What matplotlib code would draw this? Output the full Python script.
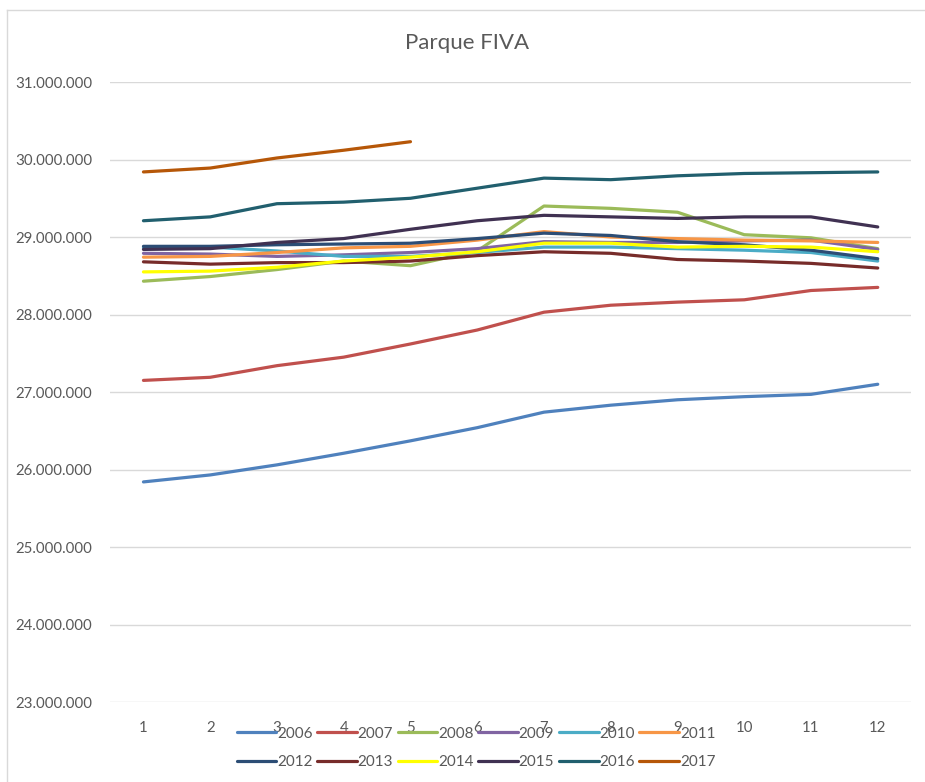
import matplotlib.pyplot as plt
from matplotlib.ticker import FuncFormatter
from matplotlib.lines import Line2D

plt.rcParams['font.family'] = ['Lato', 'DejaVu Sans']

# Meses
meses = [1, 2, 3, 4, 5, 6, 7, 8, 9, 10, 11, 12]
anos = ["2006", "2007", "2008", "2009", "2010", "2011",
        "2012", "2013", "2014", "2015", "2016", "2017"]

# Parque FIVA (milhões de veículos)
v2006 = [25.84, 25.93, 26.06, 26.21, 26.37, 26.54, 26.74, 26.83, 26.90, 26.94, 26.97, 27.10]
v2007 = [27.15, 27.19, 27.34, 27.45, 27.62, 27.80, 28.03, 28.12, 28.16, 28.19, 28.31, 28.35]
v2008 = [28.43, 28.49, 28.58, 28.69, 28.63, 28.82, 29.40, 29.37, 29.32, 29.03, 28.99, 28.85]
v2009 = [28.79, 28.78, 28.75, 28.77, 28.80, 28.85, 28.94, 28.93, 28.93, 28.95, 28.96, 28.84]
v2010 = [28.86, 28.87, 28.82, 28.75, 28.75, 28.80, 28.87, 28.87, 28.85, 28.83, 28.80, 28.69]
v2011 = [28.74, 28.75, 28.80, 28.86, 28.88, 28.96, 29.07, 29.00, 28.98, 28.96, 28.95, 28.93]
v2012 = [28.88, 28.88, 28.90, 28.91, 28.92, 28.98, 29.05, 29.02, 28.94, 28.90, 28.83, 28.72]
v2013 = [28.68, 28.65, 28.67, 28.67, 28.69, 28.76, 28.81, 28.79, 28.71, 28.69, 28.66, 28.60]
v2014 = [28.55, 28.56, 28.61, 28.69, 28.74, 28.81, 28.92, 28.92, 28.87, 28.88, 28.87, 28.81]
v2015 = [28.84, 28.85, 28.93, 28.98, 29.10, 29.21, 29.28, 29.26, 29.24, 29.26, 29.26, 29.13]
v2016 = [29.21, 29.26, 29.43, 29.45, 29.50, 29.63, 29.76, 29.74, 29.79, 29.82, 29.83, 29.84]
v2017 = [29.84, 29.89, 30.02, 30.12, 30.23]

series = [v2006, v2007, v2008, v2009, v2010, v2011,
          v2012, v2013, v2014, v2015, v2016, v2017]

cores = ["#4F81BD", "#C0504D", "#9BBB59", "#8064A2", "#4BACC6", "#F79646",
         "#2C4D75", "#772C2A", "#FFFF00", "#403152", "#215F6E", "#B65708"]

fig = plt.figure(figsize=(9.25, 7.82), dpi=100)
ax = fig.add_axes([0.119, 0.1023, 0.866, 0.7928])

for ano, vals, cor in zip(anos, series, cores):
    ax.plot(meses[:len(vals)], [v * 1e6 for v in vals], color=cor, lw=2.3,
            label=ano, solid_capstyle="round", solid_joinstyle="round")

ax.set_xlim(0.5, 12.5)
ax.set_ylim(23e6, 31e6)
ax.set_xticks(meses)
ax.set_yticks([23e6 + i * 1e6 for i in range(9)])
ax.yaxis.set_major_formatter(FuncFormatter(lambda v, p: f"{int(v):,}".replace(",", ".")))
ax.grid(axis="y", color="#D9D9D9", lw=1)
ax.set_axisbelow(True)
for s in ax.spines.values():
    s.set_visible(False)
ax.tick_params(length=0, labelsize=10.8, colors="#595959")
ax.tick_params(axis="y", pad=13)
ax.tick_params(axis="x", pad=14)

fig.text(0.505, 0.945, "Parque FIVA", ha="center", va="center", fontsize=16, color="#595959")

# legenda em linhas (matplotlib preenche por colunas)
h, l = ax.get_legend_handles_labels()
ordem = [i + 6 * r for i in range(6) for r in range(2)]
fig.legend([h[i] for i in ordem], [l[i] for i in ordem], loc="center",
           bbox_to_anchor=(476 / 925, 1 - 748 / 782),
           ncol=6, frameon=False, handlelength=2.6, handletextpad=0.05,
           columnspacing=0.3, labelspacing=0.95, labelcolor="#595959", fontsize=11)

# borda do gráfico
fig.add_artist(Line2D([7 / 925, 7 / 925], [0, 1 - 10 / 782], color="#D9D9D9", lw=1))
fig.add_artist(Line2D([7 / 925, 1], [1 - 10 / 782, 1 - 10 / 782], color="#D9D9D9", lw=1))

fig.savefig("out.png", dpi=100)
